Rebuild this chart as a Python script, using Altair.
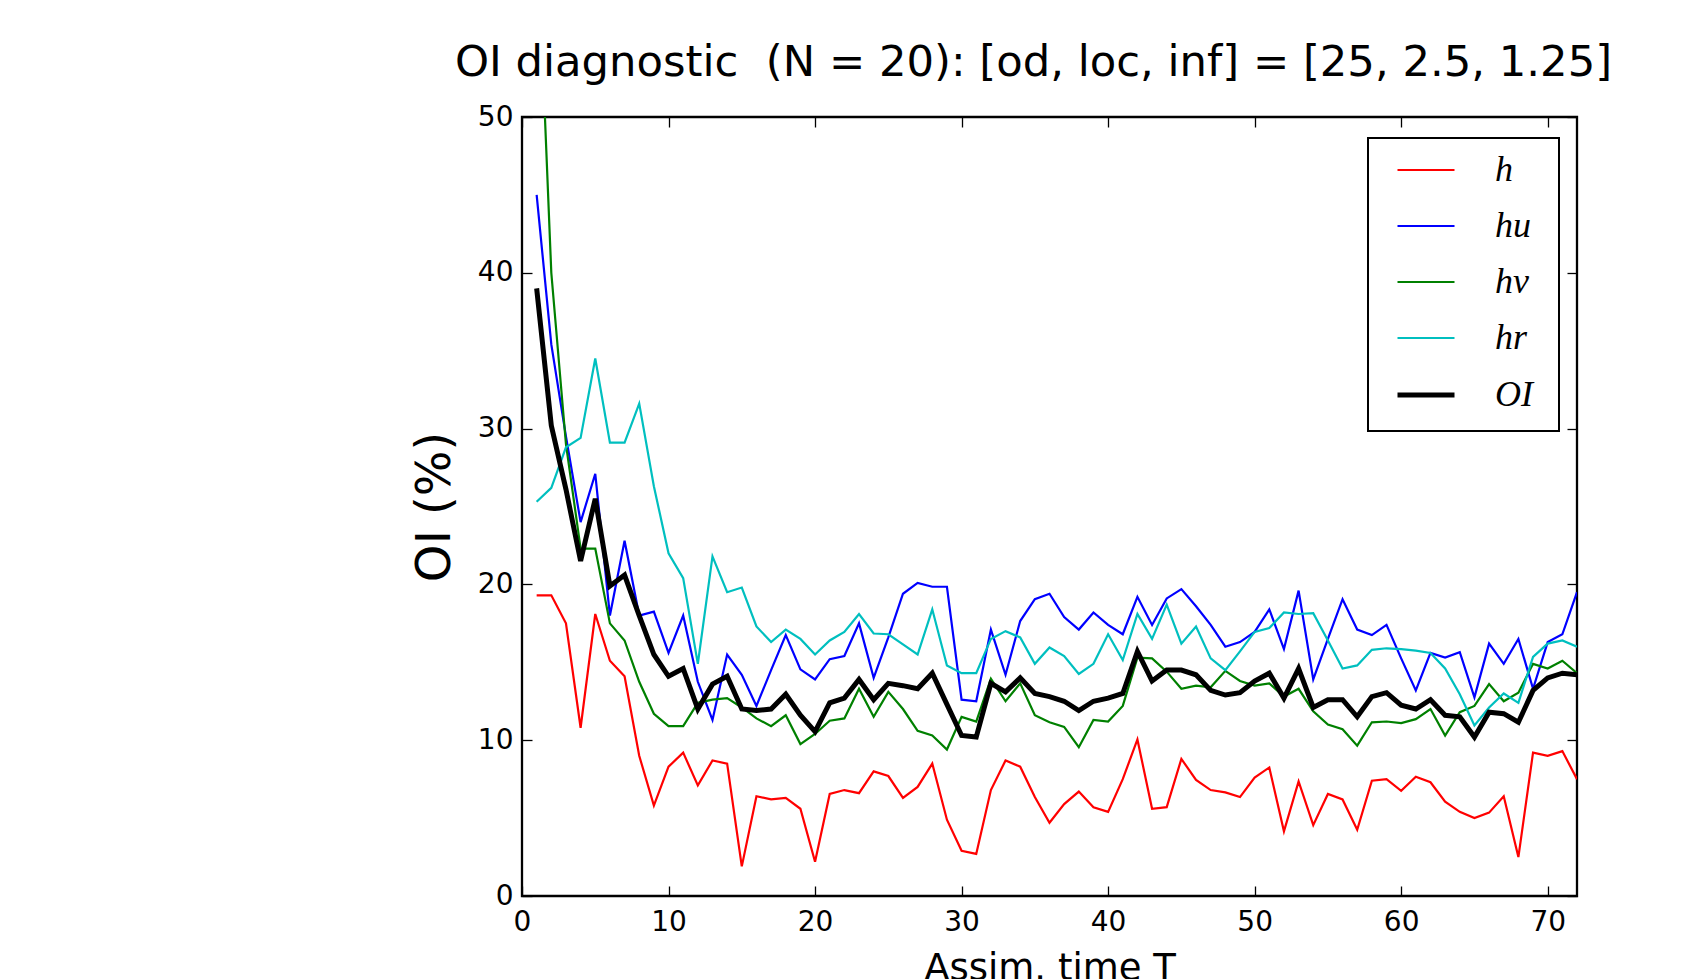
import altair as alt
import pandas as pd

T = list(range(1, 73))

h = [19.3, 19.3, 17.5, 10.8, 18.1, 15.1, 14.1, 9.0, 5.8, 8.3, 9.2, 7.1, 8.7, 8.5, 1.9, 6.4, 6.2, 6.3,
     5.6, 2.2, 6.55, 6.8, 6.6, 8.0, 7.7, 6.3, 7.0, 8.5, 4.9, 2.9, 2.7, 6.8, 8.7, 8.3, 6.35, 4.7,
     5.9, 6.7, 5.7, 5.4, 7.5, 10.05, 5.6, 5.7, 8.8, 7.45, 6.8, 6.65, 6.35, 7.6, 8.25, 4.15, 7.35, 4.55,
     6.55, 6.2, 4.25, 7.4, 7.5, 6.75, 7.65, 7.3, 6.05, 5.4, 5.0, 5.35, 6.4, 2.5, 9.2, 9.0, 9.3, 7.5]

hu = [45.0, 35.4, 29.5, 24.0, 27.1, 18.0, 22.8, 18.0, 18.25, 15.6, 18.0, 13.75, 11.3, 15.5, 14.2, 12.2, 14.5, 16.75,
      14.55, 13.9, 15.2, 15.4, 17.5, 14.0, 16.6, 19.4, 20.1, 19.85, 19.85, 12.6, 12.5, 17.1, 14.2, 17.65, 19.05, 19.4,
      17.9, 17.1, 18.2, 17.4, 16.8, 19.2, 17.4, 19.1, 19.7, 18.6, 17.4, 16.0, 16.3, 16.95, 18.4, 15.85, 19.6, 13.9,
      16.5, 19.05, 17.1, 16.75, 17.4, 15.25, 13.2, 15.6, 15.3, 15.65, 12.75, 16.2, 14.9, 16.5, 13.3, 16.3, 16.8, 19.5]

hv = [63.0, 40.0, 29.0, 22.3, 22.3, 17.5, 16.4, 13.75, 11.7, 10.9, 10.9, 12.4, 12.6, 12.7, 12.1, 11.4, 10.9, 11.6,
      9.75, 10.4, 11.25, 11.4, 13.3, 11.5, 13.1, 12.0, 10.6, 10.3, 9.4, 11.5, 11.2, 13.95, 12.5, 13.65, 11.6, 11.15,
      10.85, 9.55, 11.3, 11.2, 12.2, 15.3, 15.25, 14.4, 13.3, 13.5, 13.4, 14.45, 13.8, 13.5, 13.65, 12.8, 13.3, 11.85,
      11.0, 10.7, 9.65, 11.15, 11.2, 11.1, 11.35, 12.0, 10.3, 11.8, 12.2, 13.6, 12.5, 13.05, 14.9, 14.6, 15.1, 14.3]

hr = [25.3, 26.2, 28.8, 29.4, 34.5, 29.1, 29.1, 31.6, 26.3, 22.0, 20.4, 14.9, 21.8, 19.5, 19.8, 17.3, 16.3, 17.1,
      16.5, 15.5, 16.4, 16.95, 18.1, 16.85, 16.8, 16.15, 15.5, 18.4, 14.8, 14.3, 14.3, 16.5, 17.0, 16.6, 14.9, 15.95,
      15.4, 14.25, 14.9, 16.8, 15.15, 18.1, 16.5, 18.7, 16.2, 17.3, 15.25, 14.5, 15.7, 16.95, 17.2, 18.2, 18.1, 18.15,
      16.4, 14.6, 14.8, 15.8, 15.9, 15.85, 15.75, 15.6, 14.6, 12.95, 10.95, 12.1, 13.0, 12.4, 15.35, 16.2, 16.4, 16.0]

OI = [39.0, 30.2, 26.1, 21.5, 25.5, 19.9, 20.6, 18.0, 15.5, 14.1, 14.6, 12.0, 13.6, 14.1, 12.0, 11.9, 12.0, 12.95,
      11.6, 10.55, 12.4, 12.7, 13.9, 12.6, 13.65, 13.5, 13.3, 14.3, 12.3, 10.3, 10.2, 13.65, 13.1, 14.0, 13.0, 12.8,
      12.5, 11.9, 12.5, 12.7, 13.0, 15.7, 13.8, 14.5, 14.5, 14.2, 13.2, 12.9, 13.05, 13.8, 14.3, 12.7, 14.6, 12.1,
      12.6, 12.6, 11.5, 12.8, 13.05, 12.25, 12.0, 12.6, 11.6, 11.5, 10.2, 11.8, 11.7, 11.15, 13.2, 14.0, 14.3, 14.2]

series_names = ["h", "hu", "hv", "hr", "OI"]
series_colors = ["#ff0000", "#0000ff", "#008000", "#00bfbf", "#000000"]
series_widths = [2.2, 2.2, 2.2, 2.2, 5]
x_ticks = [0, 10, 20, 30, 40, 50, 60, 70]
y_ticks = [0, 10, 20, 30, 40, 50]

rows = []
for name, vals in zip(series_names, [h, hu, hv, hr, OI]):
    for t, v in zip(T, vals):
        rows.append({"t": t, "v": v, "series": name})
df = pd.DataFrame(rows)

W, H = 1055, 779
xs = alt.Scale(domain=[0, 72], nice=False, zero=False)
ys = alt.Scale(domain=[0, 50], nice=False)

# invisible (white) spacer title widens the legend box to the reference's width
leg = alt.Legend(title="MMMMMMMMMMMMMI", titleOrient="bottom", titleFontSize=14, titlePadding=2,
                 titleColor="white", titleLimit=400, titleFont="DejaVu Sans")

lines = alt.Chart(df).mark_line(clip=True).encode(
    x=alt.X("t:Q", scale=xs, axis=alt.Axis(
        orient="bottom", values=x_ticks, ticks=False, tickSize=0, domain=False, grid=False,
        labelPadding=12, labelFlush=False, title="Assim. time T", titleY=83,
        titleFontSize=37, titleBaseline="alphabetic")),
    y=alt.Y("v:Q", scale=ys, axis=alt.Axis(
        orient="left", values=y_ticks, ticks=False, tickSize=0, domain=False, grid=False,
        labelPadding=9, title="OI (%)", titleX=-73, titleY=H / 2, titleAngle=270,
        titleFontSize=48, titleBaseline="alphabetic", titleAlign="center")),
    color=alt.Color("series:N", scale=alt.Scale(domain=series_names, range=series_colors),
                    sort=series_names, legend=leg),
    strokeWidth=alt.StrokeWidth("series:N", scale=alt.Scale(type="ordinal", domain=series_names,
                                                            range=series_widths),
                                sort=series_names, legend=leg),
)

tick_common = dict(ticks=True, tickSize=10, tickWidth=1.3, tickColor="black", labels=False,
                   domain=False, grid=False, title=None, offset=-10)

ticks_bl = alt.Chart(df).mark_point(opacity=0, size=1, clip=True).encode(
    x=alt.X("t:Q", scale=xs, axis=alt.Axis(orient="bottom", values=x_ticks, **tick_common)),
    y=alt.Y("v:Q", scale=ys, axis=alt.Axis(orient="left", values=y_ticks, **tick_common)),
)
ticks_tr = alt.Chart(df).mark_point(opacity=0, size=1, clip=True).encode(
    x=alt.X("t:Q", scale=xs, axis=alt.Axis(orient="top", values=x_ticks, **tick_common)),
    y=alt.Y("v:Q", scale=ys, axis=alt.Axis(orient="right", values=y_ticks, **tick_common)),
)

chart = alt.layer(lines, ticks_bl, ticks_tr).resolve_axis(
    x="independent", y="independent"
).properties(
    width=W, height=H,
    autosize=alt.AutoSizeParams(type="none"),
    padding={"left": 514, "top": 109, "right": 99, "bottom": 83},
    title=alt.TitleParams(
        "OI diagnostic\u00a0 (N = 20): [od, loc, inf] = [25, 2.5, 1.25]",
        fontSize=43.3, font="DejaVu Sans", fontWeight="normal", color="black",
        anchor="middle", frame="group", baseline="alphabetic", offset=44, dx=-16, dy=60),
).configure_view(
    stroke="black", strokeWidth=2.3
).configure_axis(
    labelFont="DejaVu Sans", labelFontSize=28, labelColor="black",
    titleFont="DejaVu Sans", titleFontWeight="normal", titleColor="black",
).configure_legend(
    orient="none", legendX=846, legendY=21,
    strokeColor="black", strokeWidth=2, fillColor="white",
    padding=2, rowPadding=8, symbolType="stroke", symbolSize=3249, symbolOffset=25,
    labelOffset=38, labelFont="Liberation Serif", labelFontStyle="italic",
    labelFontSize=36, labelColor="black",
)

chart.save("out.html", embed_options={"renderer": "svg", "actions": False})
